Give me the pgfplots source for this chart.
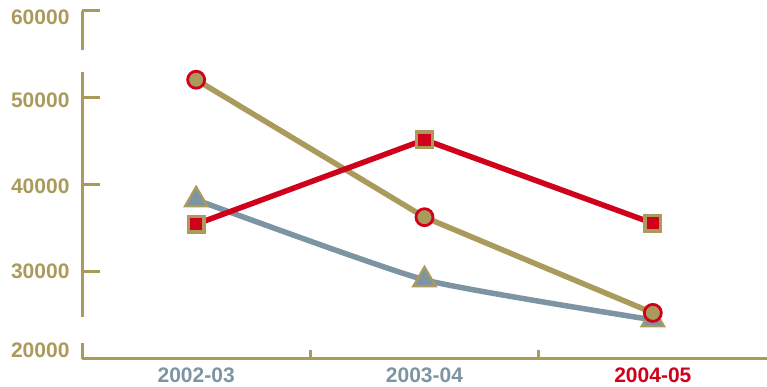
\documentclass[border=0pt]{standalone}
\usepackage{fontspec}
\setmainfont{Liberation Sans}
\usepackage{pgfplots}
\pgfplotsset{compat=1.18}

\definecolor{olive}{HTML}{AA9B5C}
\definecolor{crimson}{HTML}{D0021B}
\definecolor{slate}{HTML}{7D95A2}

% y tick label with its own vertical offset (baseline relative to the tick)
\newcommand{\yl}[2]{\raisebox{#1}[0pt][0pt]{#2}}

\begin{document}
\begin{tikzpicture}[x=1pt,y=1pt]
\path[use as bounding box] (0,0) rectangle (767,387);
\begin{axis}[
  at={(82pt,28pt)}, anchor=south west,
  scale only axis, width=685pt, height=348pt,
  xmin=-0.5, xmax=2.5, ymin=20000, ymax=60000,
  clip=false,
  axis x line*=bottom, axis y line*=left,
  x axis line style={draw=olive, line width=3pt, -},
  y axis line style={draw=none, -},
  xtick={0,1,2},
  xticklabels={\textcolor{slate}{2002-03},\textcolor{slate}{2003-04},\textcolor{crimson}{2004-05}},
  x tick style={draw=none},
  extra x ticks={0.5,1.5},
  extra x tick labels={},
  extra x tick style={x tick style={draw=olive, line width=3.5pt}, major tick length=9pt},
  ytick={20000,30000,40000,50000,60000},
  yticklabels={\yl{1pt}{20000},\yl{-7pt}{30000},\yl{-9pt}{40000},\yl{-10pt}{50000},\yl{-14pt}{60000}},
  scaled y ticks=false,
  y tick style={draw=olive, line width=3pt},
  major tick length=18pt,
  tick align=inside,
  /pgf/number format/1000 sep={},
  /pgf/number format/assume math mode=true,
  ticklabel style={font=\fontsize{21}{25}\selectfont\bfseries},
  yticklabel style={text=olive, xshift=-9pt},
  xticklabel style={yshift=-5pt},
]
% broken vertical axis, drawn as three segments
\draw[olive, line width=3pt] (axis cs:-0.5,60000) -- (axis cs:-0.5,55500);
\draw[olive, line width=3pt] (axis cs:-0.5,53000) -- (axis cs:-0.5,24800);
\draw[olive, line width=3pt] (axis cs:-0.5,21800) -- (axis cs:-0.5,20000);

% slate series with triangles
\addplot[slate, line width=5.5pt, smooth, tension=0.3,
  mark=triangle*, mark size=13pt,
  mark options={fill=slate, draw=olive, line width=2.2pt, solid}]
  coordinates {(0,38300) (1,29100) (2,24500)};

% olive series with circles
\addplot[olive, line width=5.5pt,
  mark=*, mark size=8.5pt,
  mark options={fill=olive, draw=crimson, line width=2.8pt}]
  coordinates {(0,52100) (1,36300) (2,25300)};

% crimson series with squares
\addplot[crimson, line width=5.5pt,
  mark=square*, mark size=7.8pt,
  mark options={fill=crimson, draw=olive, line width=3.2pt}]
  coordinates {(0,35500) (1,45200) (2,35600)};
\end{axis}
\end{tikzpicture}
\end{document}
